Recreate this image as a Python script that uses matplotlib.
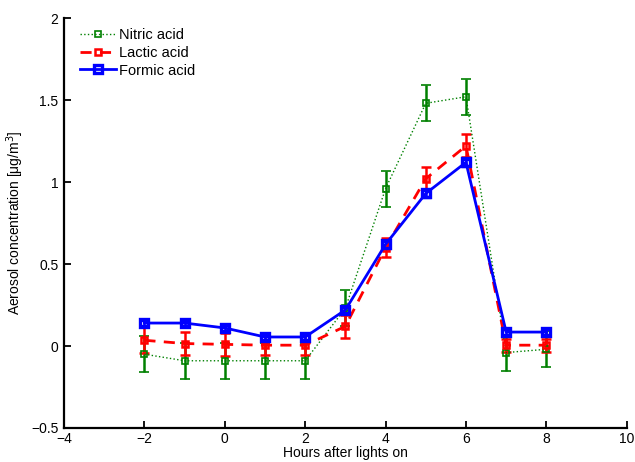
import matplotlib
matplotlib.use("Agg")
import matplotlib.pyplot as plt
from matplotlib.lines import Line2D

plt.rcParams['font.family'] = ['Liberation Sans', 'DejaVu Sans']

hours = [-2, -1, 0, 1, 2, 3, 4, 5, 6, 7, 8]

nitric = [-0.05, -0.09, -0.09, -0.09, -0.09, 0.23, 0.96, 1.48, 1.52, -0.04, -0.02]
nitric_err = [0.11, 0.11, 0.11, 0.11, 0.11, 0.11, 0.11, 0.11, 0.11, 0.11, 0.11]

lactic = [0.035, 0.015, 0.01, 0.005, 0.005, 0.12, 0.60, 1.02, 1.22, 0.005, 0.005]
lactic_err = [0.08, 0.07, 0.07, 0.06, 0.06, 0.07, 0.06, 0.07, 0.07, 0.04, 0.04]

formic = [0.14, 0.14, 0.11, 0.055, 0.055, 0.22, 0.62, 0.93, 1.12, 0.085, 0.085]
formic_err = [0.02, 0.02, 0.02, 0.02, 0.02, 0.02, 0.02, 0.02, 0.02, 0.02, 0.02]

names = ['Nitric acid', 'Lactic acid', 'Formic acid']

fig = plt.figure(figsize=(6.35, 4.62), dpi=100)
ax = fig.add_axes([0.1008, 0.0736, 0.8862, 0.8874])

styles = [
    dict(color='#008000', ls=':', lw=1.0, mew=1.2, ms=5),
    dict(color='#ff0000', ls='--', lw=2.0, mew=1.8, ms=5),
    dict(color='#0000ff', ls='-', lw=2.0, mew=2.4, ms=5.5),
]
series = [(nitric, nitric_err), (lactic, lactic_err), (formic, formic_err)]

handles = []
for (vals, errs), st, name in zip(series, styles, names):
    kw = dict(color=st['color'], ls=st['ls'], lw=st['lw'], marker='s', ms=st['ms'],
              mfc='none', mew=st['mew'])
    if st['ls'] == '--':
        kw['dashes'] = (4, 3)
    ax.errorbar(hours, vals, yerr=errs, elinewidth=1.8, capsize=3.5, capthick=1.8, **kw)
    handles.append(Line2D([], [], **kw))

ax.set_xlim(-4, 10)
ax.set_ylim(-0.5, 2)
ax.set_xticks([-4, -2, 0, 2, 4, 6, 8, 10])
ax.set_yticks([-0.5, 0, 0.5, 1, 1.5, 2])
ax.set_xticklabels(['\u22124', '\u22122', '0', '2', '4', '6', '8', '10'])
ax.set_yticklabels(['\u22120.5', '0', '0.5', '1', '1.5', '2'])

for s in ['top', 'right']:
    ax.spines[s].set_visible(False)
for s in ['left', 'bottom']:
    ax.spines[s].set_linewidth(1.6)
ax.tick_params(direction='in', length=5, width=1.3, labelsize=10)
ax.tick_params(axis='x', pad=3)
ax.tick_params(axis='y', pad=4)

ax.set_xlabel('Hours after lights on', fontsize=10, labelpad=0)
ax.set_ylabel('Aerosol concentration [\u03bcg/m$^3$]', fontsize=10, labelpad=4)

ax.legend(handles, names, loc='upper left', frameon=False, fontsize=10.5,
          handlelength=2.5, borderaxespad=0.3, labelspacing=0.25, handletextpad=0.2,
          bbox_to_anchor=(0.01, 1.0))

fig.savefig('out.png', dpi=100)
